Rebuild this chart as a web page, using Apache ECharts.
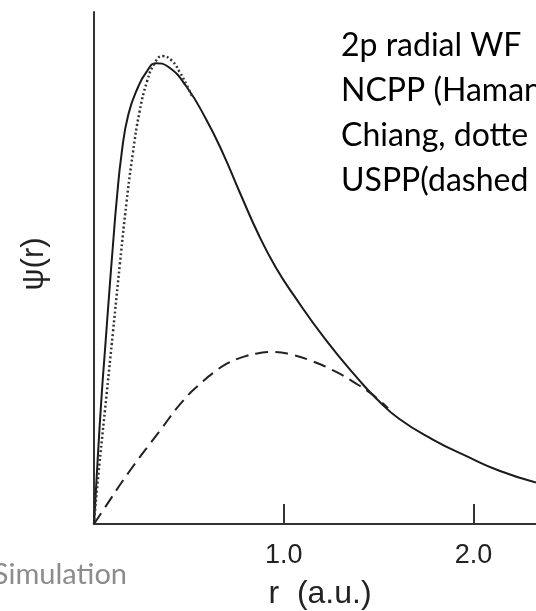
<!DOCTYPE html>
<html>
<head>
<meta charset="utf-8">
<script src="https://cdn.jsdelivr.net/npm/echarts@6/dist/echarts.min.js"></script>
<style>
  html, body { margin: 0; padding: 0; background: #fff; }
  #main { width: 536px; height: 611px; }
</style>
</head>
<body>
<div id="main"></div>
<script>
// solid curve (all-electron / NCPP)
var solidR   = [0, 0.02, 0.041, 0.06, 0.08, 0.1, 0.119, 0.146, 0.181, 0.233, 0.277, 0.326, 0.391, 0.488, 0.593, 0.681, 0.768, 0.874, 0.96, 1.049, 1.225, 1.4, 1.488, 1.61, 1.786, 1.961, 2.137, 2.33];
var solidPsi = [0, 0.13, 0.255, 0.35, 0.45, 0.545, 0.63, 0.725, 0.80, 0.854, 0.883, 0.900, 0.893, 0.854, 0.789, 0.723, 0.648, 0.56, 0.50, 0.449, 0.358, 0.280, 0.245, 0.205, 0.165, 0.133, 0.104, 0.081];
// dotted curve (Hamann-Schluter-Chiang)
var dottedR   = [0, 0.02, 0.067, 0.1, 0.137, 0.172, 0.205, 0.24, 0.28, 0.32, 0.361, 0.41, 0.453, 0.49, 0.52];
var dottedPsi = [0, 0.085, 0.255, 0.375, 0.51, 0.63, 0.725, 0.805, 0.865, 0.9, 0.914, 0.905, 0.882, 0.856, 0.833];
// dashed curve (USPP)
var dashedR   = [0, 0.05, 0.189, 0.347, 0.47, 0.575, 0.628, 0.7, 0.768, 0.874, 0.95, 1.049, 1.137, 1.277, 1.4, 1.453, 1.5, 1.55];
var dashedPsi = [0, 0.028, 0.104, 0.182, 0.241, 0.279, 0.295, 0.313, 0.324, 0.334, 0.336, 0.33, 0.32, 0.297, 0.27, 0.257, 0.243, 0.226];

var xTicks = [1, 2];
var noteLines = ['2p radial WF', 'NCPP (Haman', 'Chiang, dotte', 'USPP(dashed'];

function pairs(xs, ys) {
  return xs.map(function (x, i) { return [x, ys[i]]; });
}

var myChart = echarts.init(document.getElementById('main'));

var notes = noteLines.map(function (t, i) {
  return {
    type: 'text', left: 341, top: 30 + i * 45,
    style: { text: t, fill: '#000', font: '32px Lato' }
  };
});
notes.push({
  type: 'text', right: 536 - 127, top: 560,
  style: { text: 'Simulation', fill: '#8c8c8c', font: '29px Lato', textAlign: 'right' }
});

var option = {
  animation: false,
  grid: { left: 94, right: 0, top: 12, bottom: 87, outerBoundsMode: 'none' },
  xAxis: {
    type: 'value', min: 0, max: 2.33,
    name: 'r  (a.u.)', nameLocation: 'middle', nameGap: 54,
    nameTextStyle: { fontSize: 32, fontFamily: 'Liberation Sans', color: '#222', padding: [0, 0, 0, 10] },
    axisLine: { lineStyle: { color: '#333', width: 2 } },
    axisTick: { inside: true, length: 20, customValues: xTicks, lineStyle: { color: '#333', width: 2 } },
    axisLabel: {
      customValues: xTicks, margin: 18, fontSize: 27, fontFamily: 'Liberation Sans', color: '#222',
      formatter: function (v) { return v.toFixed(1); }
    },
    splitLine: { show: false }
  },
  yAxis: {
    type: 'value', min: 0, max: 1,
    name: 'ψ(r)', nameLocation: 'middle', nameRotate: 90, nameGap: 44,
    nameTextStyle: { fontSize: 31, fontFamily: 'Liberation Sans', color: '#222', padding: [0, 0, 0, 8] },
    axisLine: { show: true, lineStyle: { color: '#333', width: 2 } },
    axisTick: { show: false },
    axisLabel: { show: false },
    splitLine: { show: false }
  },
  series: [
    {
      type: 'line', data: pairs(solidR, solidPsi), smooth: 0.5, showSymbol: false,
      lineStyle: { color: '#1a1a1a', width: 2 }
    },
    {
      type: 'line', data: pairs(dottedR, dottedPsi), smooth: 0.5, showSymbol: false,
      lineStyle: { color: '#333', width: 2.5, type: [2, 2.5] }
    },
    {
      type: 'line', data: pairs(dashedR, dashedPsi), smooth: 0.5, showSymbol: false,
      lineStyle: { color: '#222', width: 2, type: [13, 7] }
    }
  ],
  graphic: notes
};

myChart.setOption(option);
window.onresize = myChart.resize;
</script>
</body>
</html>
